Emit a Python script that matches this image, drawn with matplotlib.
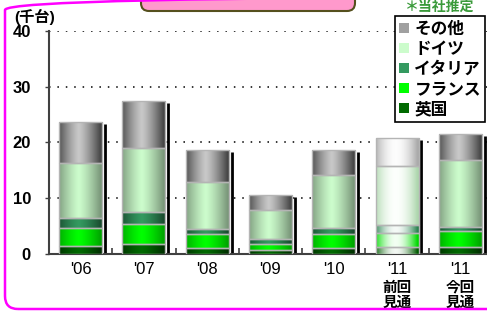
import matplotlib
matplotlib.use('Agg')
import matplotlib.pyplot as plt
import numpy as np
from matplotlib.colors import to_rgb
from matplotlib.patches import FancyBboxPatch, Patch
from matplotlib.transforms import IdentityTransform, blended_transform_factory

plt.rcParams['font.family'] = ['Liberation Sans', 'Noto Sans CJK JP']

# data (thousand units)
years = ["'06", "'07", "'08", "'09", "'10", "'11", "'11"]
sub_labels = ['', '', '', '', '', '前回\n見通', '今回\n見通']
faded = [False, False, False, False, False, True, False]
uk = [1.5, 1.8, 1.0, 0.65, 1.0, 1.2, 1.25]
france = [3.1, 3.6, 2.5, 1.15, 2.5, 2.6, 2.85]
italy = [1.9, 2.1, 0.9, 0.9, 1.1, 1.4, 0.8]
germany = [9.8, 11.5, 8.5, 5.2, 9.5, 10.5, 12.0]
other = [7.4, 8.5, 5.8, 2.6, 4.6, 5.1, 4.7]

series = [('英国', uk, '#006a00', 0.55),
          ('フランス', france, '#00ff00', 0.35),
          ('イタリア', italy, '#349a60', 0.5),
          ('ドイツ', germany, '#ccfccc', 0.4),
          ('その他', other, '#c8c8c8', 0.65)]


def shade(color, k, fade, n=64):
    x = np.linspace(0, 1, n)
    d = np.clip(np.abs(x - 0.45) / 0.5, 0, 1)
    rgb = np.array(to_rgb(color))
    if fade:
        w = 0.95 * (1 - d ** 2)
        img = rgb + (1 - rgb) * w[:, None]
        img = img * (1 - 0.15 * d ** 2)[:, None]
    else:
        img = rgb * (1 - k * d ** 1.3)[:, None]
    return np.clip(img, 0, 1)[None, :, :]


fig = plt.figure(figsize=(4.87, 3.11), dpi=100)
ax = fig.add_axes([49 / 487, 57 / 311, 443 / 487, 223 / 311])

x = np.arange(len(years))
w = 0.68
bottom = np.zeros(len(years))
for name, vals, col, k in series:
    bars = ax.bar(x, vals, w, bottom=bottom, color=col, zorder=2)
    for i, p in enumerate(bars.patches):
        x0, y0 = p.get_x(), p.get_y()
        im = ax.imshow(shade(col, k, faded[i]), extent=(x0, x0 + p.get_width(), y0, y0 + p.get_height()),
                       aspect='auto', zorder=3, interpolation='bilinear')
        im.set_clip_path(p)
    ax.bar(x, vals, w, bottom=bottom, fill=False, edgecolor='#b4b4b4', lw=1, zorder=4)
    bottom += np.array(vals)

# shadow line on the right of each bar
ax.vlines(x + w / 2 + 0.045, 0, bottom - 0.35, color='black', lw=2, zorder=1)

ax.set_xlim(-0.5, len(years) - 0.5)
ax.set_ylim(0, 40)
ax.set_yticks([0, 10, 20, 30, 40])
ax.set_yticklabels(['0', '10', '20', '30', '40'], fontsize=12, fontweight='bold')
ax.set_xticks(x)
ax.set_xticklabels(years, fontsize=12)
ax.tick_params(axis='x', length=0, pad=6)
ax.set_xticks(x[:-1] + 0.5, minor=True)
ax.tick_params(axis='x', which='minor', direction='in', length=4, width=1.2, color='#404040')
ax.tick_params(axis='y', length=3, width=1, color='#404040', pad=10)
ax.yaxis.grid(True, linestyle=(0, (1, 4.5)), color='black', lw=1.1)
ax.set_axisbelow(True)
for s in ['top', 'right']:
    ax.spines[s].set_visible(False)
for s in ['left', 'bottom']:
    ax.spines[s].set_color('#404040')
    ax.spines[s].set_linewidth(1.5)

trans = blended_transform_factory(ax.transData, ax.transAxes)
for i, lab in enumerate(sub_labels):
    if lab:
        ax.text(i, -0.112, lab, transform=trans, ha='center', va='top', fontsize=10.5,
                fontweight='bold', linespacing=0.88, family='Noto Sans CJK JP')

handles = [Patch(facecolor=c, edgecolor='none') for _, _, c, _ in series][::-1]
handles[0] = Patch(facecolor='#a0a0a0', edgecolor='none')
labels = [s[0] for s in series][::-1]
leg = fig.legend(handles, labels, loc='upper right', bbox_to_anchor=(485 / 487, 1 - 16 / 311),
                 bbox_transform=fig.transFigure, borderaxespad=0, fancybox=False, edgecolor='black',
                 framealpha=1, prop={'family': 'Noto Sans CJK JP', 'weight': 'bold', 'size': 12},
                 handlelength=0.55, handleheight=0.55, handletextpad=0.35, labelspacing=0.12,
                 borderpad=0.25)
leg.get_frame().set_linewidth(1.2)

fig.text(14 / 487, 1 - 17 / 311, '(千台)', fontsize=11, fontweight='bold', va='center', ha='left',
         family=['Liberation Sans', 'Noto Sans CJK JP'])
fig.text(440 / 487, 1 - 7 / 311, '＊当社推定', fontsize=10, fontweight='bold', color='#3a9a3a',
         va='center', ha='center', family='Noto Sans CJK JP')

# pink banner and magenta frame
fig.patches.append(FancyBboxPatch((141, 300), 214, 40, boxstyle='round,pad=0,rounding_size=8',
                                  transform=IdentityTransform(), facecolor='#ff99cc',
                                  edgecolor='#55501e', lw=1.5))
fig.patches.append(FancyBboxPatch((5, 2), 600, 312, boxstyle='round,pad=0,rounding_size=13',
                                  transform=IdentityTransform(), facecolor='none',
                                  edgecolor='#ff00ff', lw=1.8))

fig.savefig('out.png', dpi=100)
